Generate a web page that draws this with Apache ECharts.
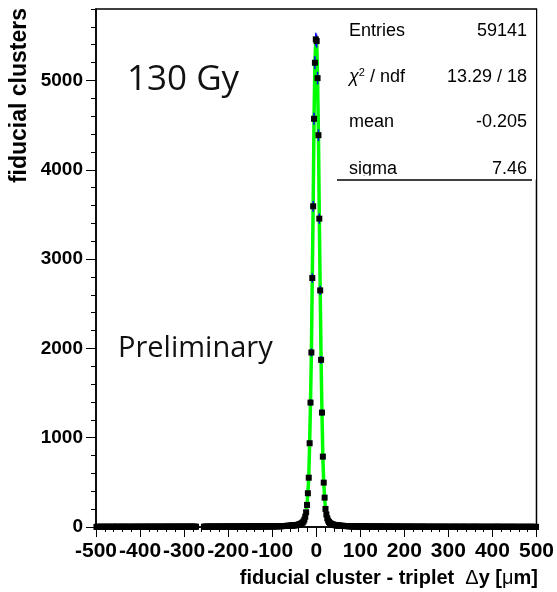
<!DOCTYPE html>
<html>
<head>
<meta charset="utf-8">
<script src="https://cdn.jsdelivr.net/npm/echarts@6.0.0/dist/echarts.min.js"></script>
<style>
  html, body { margin: 0; padding: 0; background: #fff; }
  #chart { width: 557px; height: 592px; }
</style>
</head>
<body>
<div id="chart"></div>
<script>
// histogram: 500 bins of 2 um from -500 to 500 (one line = 20 bins)
var binLow = -500;
var binWidth = 2;
var counts = [
  1,2,1,1,2,3,1,2,1,2,2,1,3,1,2,2,1,1,2,3,              // -499 .. -461
  2,1,2,2,3,1,2,2,1,3,2,2,1,2,3,2,1,2,2,1,              // -459 .. -421
  2,3,1,2,2,2,3,1,2,2,3,2,2,1,2,3,2,2,3,2,              // -419 .. -381
  2,2,3,2,1,3,2,2,3,2,2,3,2,2,3,1,3,2,2,3,              // -379 .. -341
  3,2,2,3,2,3,3,2,2,3,2,3,3,2,3,2,3,3,2,3,              // -339 .. -301
  3,3,2,3,3,2,3,4,3,3,2,3,3,3,null,null,null,null,null,null, // -299 .. -261
  null,null,3,3,4,3,3,2,4,3,3,4,3,3,4,3,4,3,3,4,        // -259 .. -221
  4,3,4,3,4,4,3,4,4,3,4,4,5,4,3,4,5,4,4,5,              // -219 .. -181
  4,5,4,5,5,4,5,5,4,5,5,6,5,5,6,5,6,6,5,6,              // -179 .. -141
  6,6,5,7,6,6,7,6,7,7,6,7,7,8,7,7,8,7,8,8,              // -139 .. -101
  7,8,8,8,9,8,9,9,10,9,10,10,11,11,11,12,12,13,13,14,   // -99 .. -61
  15,15,16,17,18,19,20,21,23,25,28,32,36,42,50,62,82,115,165,247, // -59 .. -21
  378,552,938,1393,1954,2788,3591,4571,5198,5460,
  5441,5026,4387,3453,2649,1872,1281,788,497,329,       // -19 .. 19
  202,140,98,72,56,45,38,33,29,26,23,21,19,18,17,16,15,14,13,13, // 21 .. 59
  12,12,11,11,10,10,9,9,9,8,8,8,7,7,7,6,7,6,6,6,        // 61 .. 99
  6,5,6,5,5,6,5,5,4,5,5,4,5,4,4,5,4,4,4,5,              // 101 .. 139
  4,4,3,4,4,4,3,4,3,4,4,3,3,4,3,3,4,3,3,3,              // 141 .. 179
  3,3,4,3,2,3,3,3,2,3,3,2,3,3,2,3,3,2,3,2,              // 181 .. 219
  3,2,2,3,2,3,2,2,3,2,2,3,2,2,2,3,2,2,1,2,              // 221 .. 259
  2,2,3,2,2,1,2,2,3,2,2,1,2,2,2,3,2,1,2,2,              // 261 .. 299
  2,1,2,2,1,2,3,2,1,2,2,2,1,2,2,1,2,3,2,1,              // 301 .. 339
  2,2,1,2,1,2,2,1,2,2,3,1,2,1,2,2,1,2,2,1,              // 341 .. 379
  1,2,2,1,2,1,2,2,1,1,2,2,1,2,1,3,2,1,2,1,              // 381 .. 419
  2,1,1,2,2,1,2,1,1,2,2,1,2,1,1,2,1,2,1,1,              // 421 .. 459
  1,2,1,1,2,1,1,2,1,2,1,1,2,1,2,1,1,1,2,1               // 461 .. 499
];

// gaussian fit curve
var fitX = [-22,-21,-19,-17,-15,-13,-11,-9,-7,-5,-3,-1,0,1,3,5,7,9,11,13,15,17,19,21,22];
var fitY = [200,247,378,552,938,1393,1954,2788,3591,4571,5198,5460,5485,5441,5026,4387,3453,2649,1872,1281,788,497,329,202,175];

// stats box
var statNames = ['Entries', '{c|\u03c7}{s|2}{n| / ndf}', 'mean', 'sigma'];
var statValues = ['59141', '13.29 / 18', '-0.205', '7.46'];

var yMajorTicks = [0, 1000, 2000, 3000, 4000, 5000];

var FONT = '"Liberation Sans", Arial, Helvetica, sans-serif';

var points = [];
var errBars = [];
for (var i = 0; i < counts.length; i++) {
  if (counts[i] === null) continue;
  var xc = binLow + binWidth * (i + 0.5);
  points.push([xc, counts[i]]);
  errBars.push([xc, counts[i], Math.sqrt(counts[i])]);
}
var fitData = fitX.map(function (x, k) { return [x, fitY[k]]; });

var chart = echarts.init(document.getElementById('chart'));

var statGraphics = [];
var rowY = [31, 77, 122, 169];
for (var r = 0; r < statNames.length; r++) {
  statGraphics.push({
    type: 'text', x: 349, y: rowY[r], z: 101,
    style: {
      text: statNames[r], font: '18px ' + FONT, fill: '#000',
      align: 'left', textAlign: 'left', verticalAlign: 'middle', textVerticalAlign: 'middle',
      rich: {
        c: { fontSize: 18, fontFamily: FONT, fontStyle: 'italic', fill: '#000' },
        s: { fontSize: 11, fontFamily: FONT, fill: '#000', padding: [0, 0, 9, 0] },
        n: { fontSize: 18, fontFamily: FONT, fill: '#000' }
      }
    }
  });
  statGraphics.push({
    type: 'text', x: 527, y: rowY[r], z: 101,
    style: {
      text: statValues[r], font: '18px ' + FONT, fill: '#000',
      align: 'right', textAlign: 'right', verticalAlign: 'middle', textVerticalAlign: 'middle'
    }
  });
}

var option = {
  animation: false,
  backgroundColor: '#fff',
  grid: {
    left: 96, right: 19, top: 9, bottom: 65,
    show: true, borderColor: '#000', borderWidth: 1.5
  },
  xAxis: {
    type: 'value', min: -500, max: 500, interval: 100,
    axisLine: { show: true, onZero: false, lineStyle: { color: '#000', width: 1.5 } },
    axisTick: { show: true, length: 10, lineStyle: { color: '#000', width: 1 } },
    minorTick: { show: true, splitNumber: 5, length: 5, lineStyle: { color: '#000', width: 1 } },
    axisLabel: { color: '#000', fontWeight: 'bold', fontSize: 21, fontFamily: FONT, margin: 14 },
    splitLine: { show: false }
  },
  yAxis: [{
    type: 'value', min: 0, max: 5800, interval: 1000, position: 'left',
    axisLine: { show: true, onZero: false, lineStyle: { color: '#000', width: 1.5 } },
    axisTick: { show: true, length: 10, customValues: yMajorTicks, lineStyle: { color: '#000', width: 1 } },
    axisLabel: {
      color: '#000', fontWeight: 'bold', fontSize: 19, fontFamily: FONT, margin: 13,
      customValues: yMajorTicks,
      formatter: function (v) { return String(v); }
    },
    splitLine: { show: false }
  }, {
    type: 'value', min: 0, max: 5800, interval: 200, position: 'left',
    axisLine: { show: false, onZero: false },
    axisTick: { show: true, length: 5, lineStyle: { color: '#000', width: 1 } },
    axisLabel: { show: false },
    splitLine: { show: false }
  }],
  series: [{
    name: 'fit', type: 'line', data: fitData, yAxisIndex: 0,
    showSymbol: false, symbol: 'none', z: 2,
    lineStyle: { color: '#00ff00', width: 3.5 }
  }, {
    name: 'errors', type: 'custom', data: errBars, yAxisIndex: 0, z: 3,
    renderItem: function (params, api) {
      var x = api.value(0), y = api.value(1), e = api.value(2);
      var p1 = api.coord([x, y + e]);
      var p2 = api.coord([x, y - e]);
      return {
        type: 'line',
        shape: { x1: p1[0], y1: p1[1], x2: p2[0], y2: p2[1] },
        style: { stroke: '#0000ff', lineWidth: 1.5 }
      };
    }
  }, {
    name: 'data', type: 'scatter', data: points, yAxisIndex: 0, z: 4,
    symbol: 'rect', symbolSize: 6,
    itemStyle: { color: '#000', opacity: 1 }
  }],
  graphic: [
    {
      type: 'text', x: 20, y: 8, rotation: Math.PI / 2, z: 100,
      style: {
        text: 'fiducial clusters', font: 'bold 23px ' + FONT, fill: '#000',
        align: 'right', textAlign: 'right', verticalAlign: 'middle', textVerticalAlign: 'middle'
      }
    },
    {
      type: 'text', x: 538, y: 578, z: 100,
      style: {
        text: '{b|fiducial cluster - triplet  }{g|\u0394}{b|y [}{g|\u03bc}{b|m]}',
        font: 'bold 20px ' + FONT, fill: '#000',
        align: 'right', textAlign: 'right', verticalAlign: 'middle', textVerticalAlign: 'middle',
        rich: {
          b: { fontSize: 20, fontWeight: 'bold', fontFamily: FONT, fill: '#000' },
          g: { fontSize: 20, fontWeight: 'normal', fontFamily: FONT, fill: '#000' }
        }
      }
    },
    {
      type: 'text', x: 127, y: 80, z: 100,
      style: { text: '130 Gy', font: '35px "Open Sans", Lato, sans-serif', fill: '#111',
        align: 'left', textAlign: 'left', verticalAlign: 'middle', textVerticalAlign: 'middle' }
    },
    {
      type: 'text', x: 118, y: 349, z: 100,
      style: { text: 'Preliminary', font: '29px "Open Sans", Lato, sans-serif', fill: '#111',
        align: 'left', textAlign: 'left', verticalAlign: 'middle', textVerticalAlign: 'middle' }
    },
    {
      type: 'rect', z: 100,
      shape: { x: 338, y: 10, width: 198, height: 166 },
      style: { fill: '#fff' }
    }
  ].concat(statGraphics).concat([
    {
      type: 'rect', z: 102,
      shape: { x: 338, y: 175.5, width: 198, height: 4 },
      style: { fill: '#fff' }
    },
    {
      type: 'line', z: 103,
      shape: { x1: 337, y1: 180, x2: 532, y2: 180 },
      style: { stroke: '#000', lineWidth: 1.5 }
    }
  ])
};

chart.setOption(option);
</script>
</body>
</html>
